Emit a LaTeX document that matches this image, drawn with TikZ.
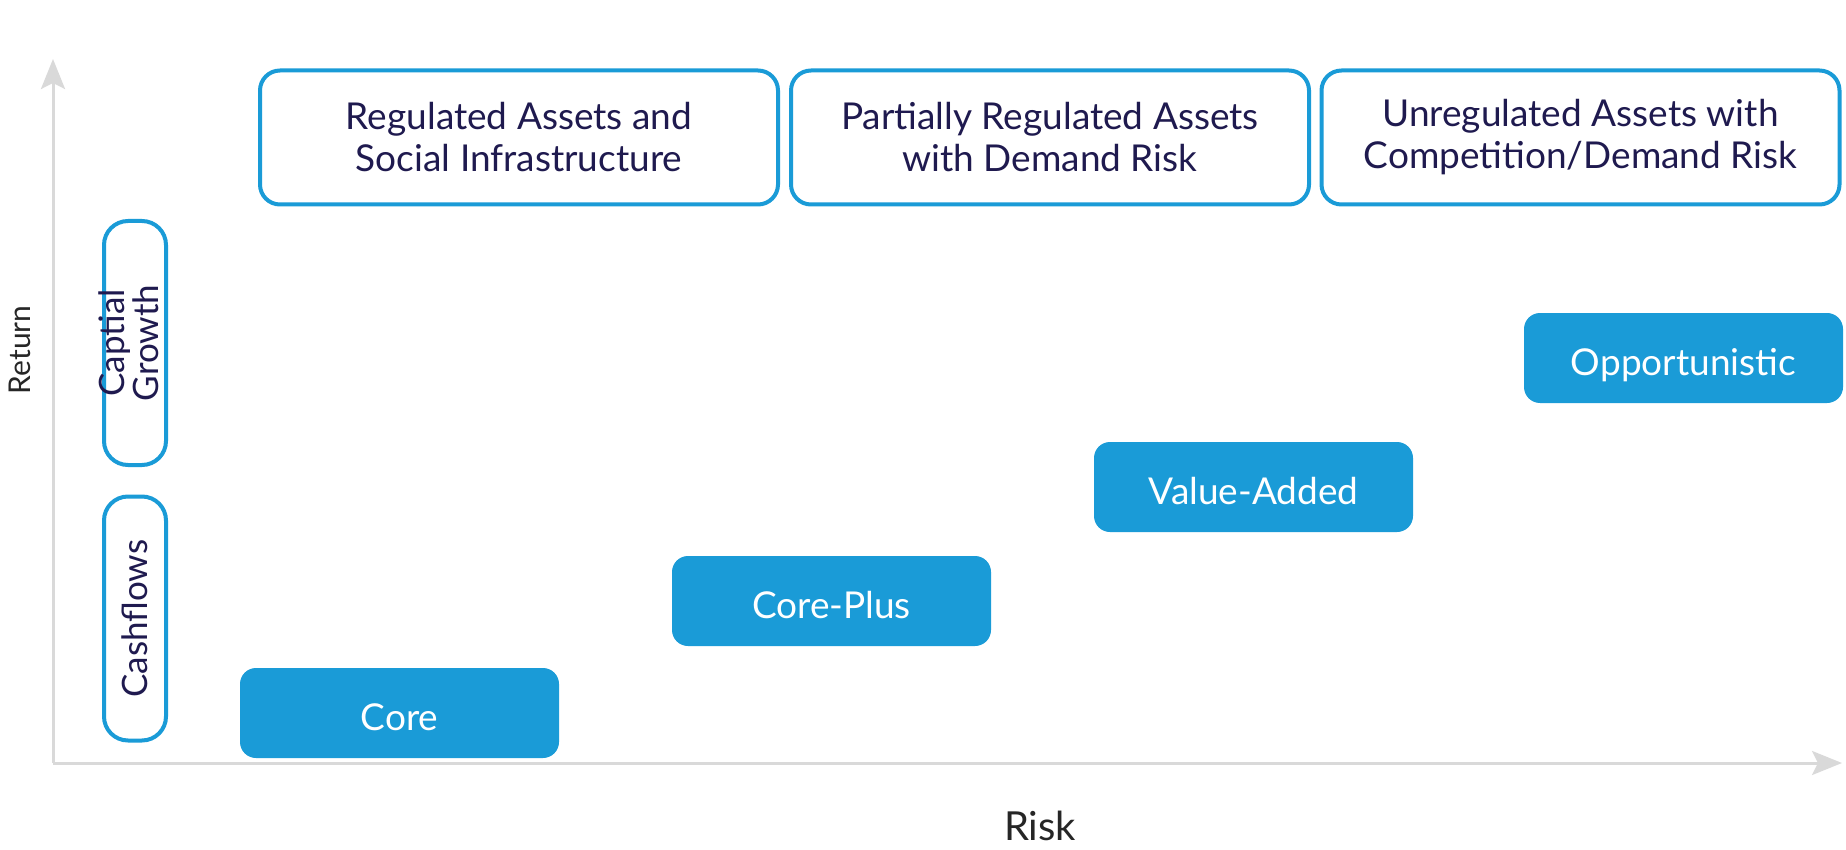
\documentclass[tikz,border=0pt]{standalone}
\usepackage{fontspec}
\setmainfont{Lato}
\usetikzlibrary{arrows.meta}
\definecolor{boxblue}{HTML}{1A9BD7}
\definecolor{navy}{HTML}{1F1A4F}
\definecolor{axisgray}{HTML}{D9D9D9}
\tikzset{
  band/.style={draw=boxblue, line width=2pt, rounded corners=10pt, fill=white,
    minimum width=259pt, minimum height=67pt, align=center, text=navy,
    font=\fontsize{18.5}{21}\selectfont},
  flow/.style={draw=boxblue, line width=2pt, rounded corners=12pt, fill=white,
    minimum width=31pt, minimum height=122pt, align=center, text=navy,
    font=\fontsize{17.5}{17}\selectfont},
  stage/.style={fill=boxblue, rounded corners=8pt, minimum width=159.5pt,
    minimum height=45pt, text=white, text height=17.5pt, text depth=0pt,
    font=\fontsize{18.5}{21}\selectfont},
  axisline/.style={draw=axisgray, line width=1.5pt,
    -{Stealth[length=15pt, width=12pt, inset=3pt]}}
}
\begin{document}
\begin{tikzpicture}[x=0.5pt,y=-0.5pt]
  \useasboundingbox (0,0) rectangle (1846,850);
  % axes
  \coordinate (o) at (53,763);
  \coordinate (ytip) at (53,59);
  \coordinate (xtip) at (1842,763);
  \draw[axisline] (o) -- (ytip);
  \draw[axisline] (o) -- (xtip);
  \node[rotate=90, font=\fontsize{15}{17}\selectfont, text=black!85] (ret) at (20,350) {Return};
  \node[font=\fontsize{20}{24}\selectfont, text=black!85] (risk) at (1040,826) {Risk};
  % asset bands
  \node[band] (reg) at (519,137.5) {Regulated Assets and\\Social Infrastructure};
  \node[band] (part) at (1050,137.5) {Partially Regulated Assets\\with Demand Risk};
  \node[band] (unreg) at (1580.5,137.5) {Unregulated Assets with\\Competition/Demand Risk};
  % return sources
  \node[flow] (growth) at (135,343) {};
  \node[rotate=90, align=center, text=navy, font=\fontsize{17.5}{17}\selectfont]
    at ([xshift=-3]growth.center) {Captial\\Growth};
  \node[flow] (cash) at (135,618.5) {};
  \node[rotate=90, text=navy, font=\fontsize{17.5}{17}\selectfont]
    at (cash.center) {Cashflows};
  % strategies
  \node[stage] (core) at (399.5,713) {Core};
  \node[stage] (plus) at (831.5,601) {Core-Plus};
  \node[stage] (value) at (1253.5,487) {Value-Added};
  \node[stage] (opp) at (1683.5,358) {Opportunistic};
\end{tikzpicture}
\end{document}
